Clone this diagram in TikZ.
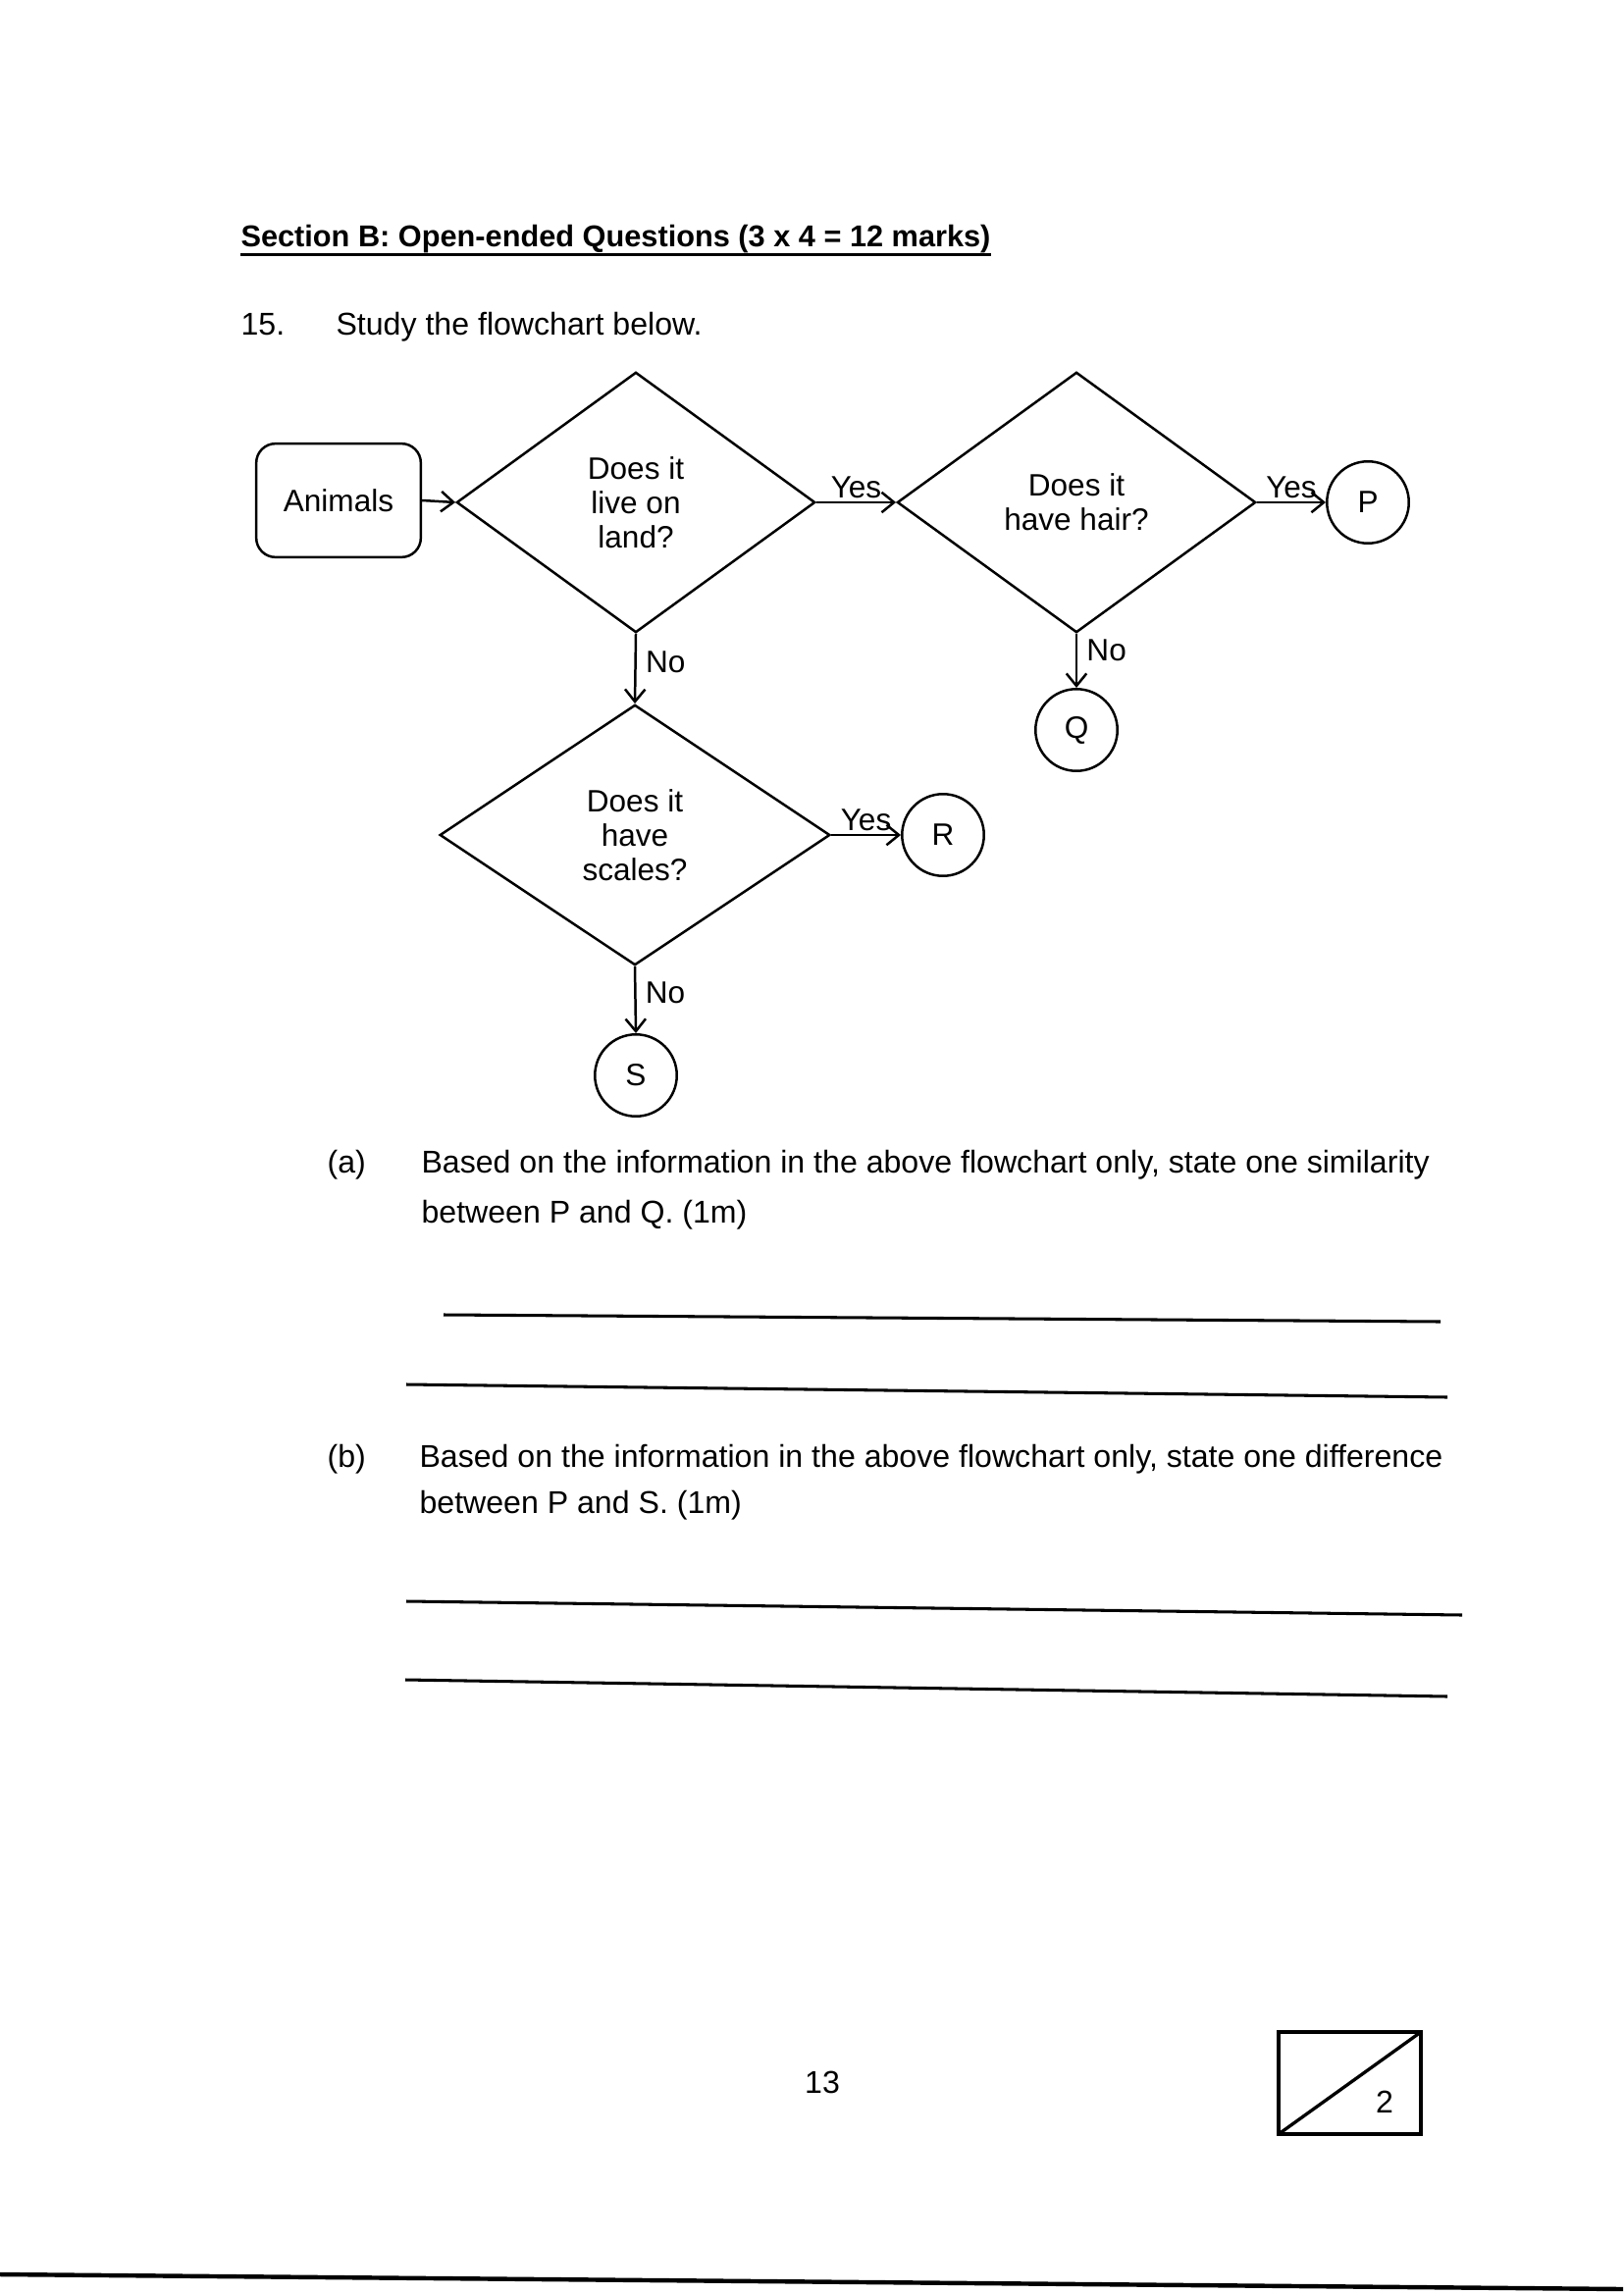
\documentclass[tikz,border=0pt]{standalone}
\usepackage{fontspec}
\setmainfont{Liberation Sans}
\usetikzlibrary{shapes.geometric,arrows.meta}

\newcommand{\qfont}{\fontsize{11.4}{12.7}\selectfont}
\newcommand{\bodyfont}{\fontsize{11.6}{14}\selectfont}

\tikzset{
  question/.style={draw, diamond, line width=0.9pt, inner sep=0pt,
    minimum width=4.64cm, minimum height=3.37cm, align=center, font=\qfont},
  outcome/.style={draw, circle, line width=0.9pt, inner sep=0pt,
    minimum size=1.06cm, font=\qfont},
  flow/.style={-{Straight Barb[length=1.6mm,width=2.6mm]}, line width=0.9pt},
  answer/.style={line width=1.1pt},
  body/.style={anchor=base west, inner sep=0pt, font=\bodyfont}
}

\begin{document}
\begin{tikzpicture}[x=0.127mm, y=-0.127mm]

  \useasboundingbox (0,0) rectangle (1654,2338);

  \node[body, font=\fontsize{11.1}{13}\selectfont\bfseries] (title) at (245,252)
    {Section B: Open-ended Questions (3 x 4 = 12 marks)};
  \draw[line width=1.1pt] ([yshift=-2.6pt]title.base west) -- ([yshift=-2.6pt]title.base east);
  \node[body] (qnum) at (245,342) {15.};
  \node[body] (qtext) at (342,342) {Study the flowchart below.};

  % flowchart
  \node[draw, rounded corners=0.25cm, line width=0.9pt, minimum width=2.13cm,
    minimum height=1.47cm, font=\qfont] (animals) at (345,510) {Animals};
  \node[question] (land) at (648,512) {Does it\\live on\\land?};
  \node[question] (hair) at (1097,512) {Does it\\have hair?};
  \node[question, minimum width=5.05cm] (scales) at (647,851) {Does it\\have\\scales?};
  \node[outcome] (P) at (1394,512) {P};
  \node[outcome] (Q) at (1097,744) {Q};
  \node[outcome] (R) at (961,851) {R};
  \node[outcome] (S) at (648,1096) {S};

  \draw[flow] (animals.east) -- (land.west);
  \draw[flow] (land.east) -- node[above, font=\qfont, inner sep=1pt] {Yes} (hair.west);
  \draw[flow] (hair.east) -- node[above, font=\qfont, inner sep=1pt] {Yes} (P.west);
  \draw[flow] (scales.east) -- node[above, font=\qfont, inner sep=1pt] {Yes} (R.west);
  \draw[flow] (land.south) -- node[right, pos=0.4, font=\qfont] {No} (scales.north);
  \draw[flow] (hair.south) -- node[right, pos=0.3, font=\qfont] {No} (Q.north);
  \draw[flow] (scales.south) -- node[right, pos=0.4, font=\qfont] {No} (S.north);

  % questions (a) and (b)
  \node[body] (alabel) at (333,1195) {(a)};
  \node[body] (aline1) at (429,1195) {Based on the information in the above flowchart only, state one similarity};
  \node[body] (aline2) at (429,1246) {between P and Q. (1m)};
  \draw[answer] (452,1340) -- (1468,1347);
  \draw[answer] (414,1411) -- (1475,1424);

  \node[body] (blabel) at (333,1495) {(b)};
  \node[body] (bline1) at (427,1495) {Based on the information in the above flowchart only, state one difference};
  \node[body] (bline2) at (427,1542) {between P and S. (1m)};
  \draw[answer] (414,1632) -- (1490,1646);
  \draw[answer] (413,1712) -- (1475,1729);

  % footer
  \node[font=\bodyfont] (page) at (838,2122) {13};
  \draw[line width=1.2pt] (1303,2071) rectangle (1448,2175);
  \draw[line width=1.2pt] (1303,2175) -- (1448,2071);
  \node[font=\bodyfont] (marks) at (1411,2142) {2};
  \draw[line width=1.6pt] (0,2318) -- (1654,2333);

\end{tikzpicture}
\end{document}
